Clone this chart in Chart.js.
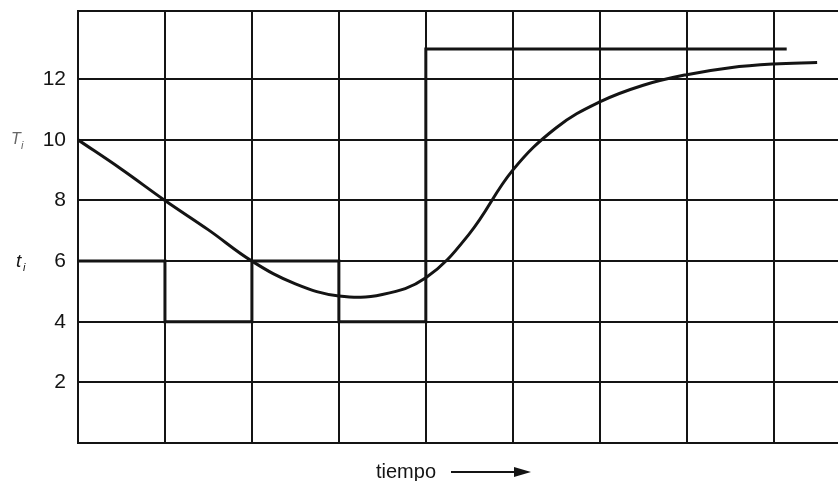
<!DOCTYPE html>
<html>
<head>
<meta charset="utf-8">
<script src="https://cdn.jsdelivr.net/npm/chart.js@4"></script>
<style>
  html, body { margin: 0; padding: 0; background: #fff; }
  canvas { display: block; }
</style>
</head>
<body>
<canvas id="grafico" width="838" height="481"></canvas>
<script>
// respuesta (curva) y entrada escalonada t_i
const tiempos = [0, 0.5, 1, 1.5, 2, 2.5, 3, 3.5, 4, 4.5, 5, 5.5, 6, 6.5, 7, 7.5, 8, 8.5];
const salida = [10, 9.03, 8, 7.03, 6, 5.25, 4.85, 4.9, 5.45, 6.9, 9.0, 10.4, 11.25, 11.8, 12.15, 12.38, 12.5, 12.55];
const tiemposEntrada = [0, 1, 2, 3, 4, 8.15];
const entrada = [6, 4, 6, 4, 13, 13];
const etiquetasY = [2, 4, 6, 8, 10, 12];

const fuente = "'Liberation Sans', Arial, Helvetica, sans-serif";
const negro = '#141414';

const textos = {
  id: 'textos',
  afterDraw(chart) {
    const c = chart.ctx;
    const y = chart.scales.y;
    c.save();
    c.fillStyle = negro;
    c.strokeStyle = negro;
    // tiempo ---->
    c.font = '20px ' + fuente;
    c.textBaseline = 'alphabetic';
    c.textAlign = 'left';
    c.fillText('tiempo', 376, 478);
    c.lineWidth = 2;
    c.beginPath();
    c.moveTo(451, 472);
    c.lineTo(518, 472);
    c.stroke();
    c.beginPath();
    c.moveTo(531, 472);
    c.lineTo(514, 467);
    c.lineTo(514, 477);
    c.closePath();
    c.fill();
    // T_i (borrosa) y t_i
    c.fillStyle = '#666';
    c.font = 'italic 16px ' + fuente;
    c.fillText('T', 11, y.getPixelForValue(10) + 4);
    c.font = 'italic 11px ' + fuente;
    c.fillText('i', 21, y.getPixelForValue(10) + 9);
    c.fillStyle = negro;
    c.font = 'italic 19px ' + fuente;
    c.fillText('t', 16, y.getPixelForValue(6) + 6);
    c.font = 'italic 11px ' + fuente;
    c.fillText('i', 23, y.getPixelForValue(6) + 10);
    c.restore();
  }
};

const ctx = document.getElementById('grafico').getContext('2d');

const grafico = new Chart(ctx, {
  type: 'line',
  data: {
    datasets: [{
      label: 'T',
      data: tiempos.map((t, i) => ({ x: t, y: salida[i] })),
      borderColor: negro,
      borderWidth: 3,
      pointRadius: 0,
      tension: 0.4,
      fill: false,
    }, {
      label: 't_i',
      data: tiemposEntrada.map((t, i) => ({ x: t, y: entrada[i] })),
      borderColor: negro,
      borderWidth: 3,
      pointRadius: 0,
      stepped: 'before',
      fill: false,
    }],
  },
  options: {
    responsive: false,
    animation: false,
    layout: { padding: { top: 11, right: 0, bottom: 0, left: 0 } },
    plugins: {
      legend: { display: false },
      tooltip: { enabled: false },
    },
    scales: {
      x: {
        type: 'linear',
        min: 0,
        max: 8.74,
        ticks: { display: false, stepSize: 1 },
        grid: {
          drawTicks: false,
          lineWidth: 2,
          color: (c) => (Number.isInteger(c.tick.value) ? negro : 'rgba(0,0,0,0)'),
        },
        border: { display: false },
        afterFit: (s) => { s.height = 38; s.paddingLeft = 0; s.paddingRight = 0; },
      },
      y: {
        min: 0,
        max: 14.25,
        ticks: {
          stepSize: 2,
          padding: 12,
          color: negro,
          font: { size: 21, family: fuente },
          callback: (v) => (etiquetasY.includes(v) ? String(v) : ''),
        },
        grid: {
          drawTicks: false,
          lineWidth: 2,
          color: (c) => (c.tick.value === 14 ? 'rgba(0,0,0,0)' : negro),
        },
        border: { display: true, color: negro, width: 2 },
        afterFit: (s) => { s.width = 78; s.paddingTop = 0; s.paddingBottom = 0; },
      },
    },
  },
  plugins: [textos],
});
</script>
</body>
</html>
